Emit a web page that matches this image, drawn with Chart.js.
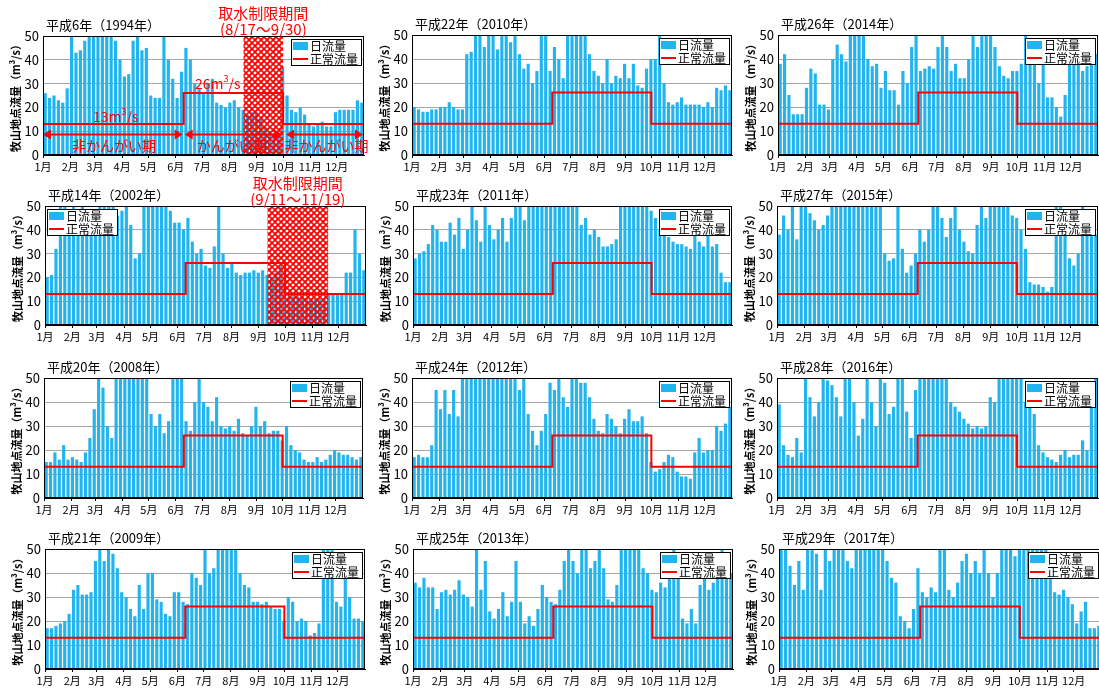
<!DOCTYPE html>
<html><head><meta charset="utf-8">
<script src="https://cdn.jsdelivr.net/npm/chart.js@4.4.0/dist/chart.umd.min.js"></script>
<style>
html,body{margin:0;padding:0;background:#fff;overflow:hidden;width:1099px;height:693px;position:relative;}
canvas{position:absolute;}
</style></head><body>
<script>
// ---------- data ----------
const monthLabels = ['1月','2月','3月','4月','5月','6月','7月','8月','9月','10月','11月','12月'];
const monthStartDays = [0,31,59,90,120,151,181,212,243,273,304,334];
const yTickStep = 10;
const yMax = 50;
const normalFlowDays = [0,160,160,273,273,365];
const normalFlowValues = [13,13,26,26,13,13];
const blockDays = 5; // each bar = 5-day block, 73 blocks per year
const legendLabels = ['日流量','正常流量'];
const yAxisTitle = '牧山地点流量（m³/s）';
const panelTitles = ['平成6年（1994年）','平成22年（2010年）','平成26年（2014年）',
  '平成14年（2002年）','平成23年（2011年）','平成27年（2015年）',
  '平成20年（2008年）','平成24年（2012年）','平成28年（2016年）',
  '平成21年（2009年）','平成25年（2013年）','平成29年（2017年）'];
const periodNames = ['非かんがい期','かんがい期','非かんがい期'];
const restrictTitle = '取水制限期間';
const restrict1994 = [228,273];
const restrict1994Label = '(8/17～9/30)';
const restrict2002 = [253,322];
const restrict2002Label = '(9/11～11/19)';

const flow1994 = [26,24,25,23,22,28, 50,43,44,48,60,60, 60,60,60,60,48,40, 33,34,48,55,44,45, 25,24,24,55,40,32, 24,35,45,40,30,28, 26,30,32,22,21,20, 22,23,20,19,17,18, 18,15,12,10,9,9, 37,25,19,18,20,17, 13,12,13,14,12,12, 18,19,19,19,19,23,22];
const flow2010 = [20,19,18,18,19,19, 20,20,22,20,19,19, 42,43,60,60,45,60, 60,44,60,60,47,60, 42,36,38,30,35,60, 60,35,45,40,32,60, 60,60,60,60,42,35, 33,30,40,30,33,32, 38,32,38,29,28,36, 40,40,55,30,22,21, 22,24,21,21,21,21, 20,22,20,28,27,29,27];
const flow2014 = [38,42,25,17,17,17, 28,36,34,21,21,19, 40,46,42,39,60,60, 60,60,40,37,38,28, 35,27,27,21,35,30, 45,60,35,36,37,36, 45,60,45,35,38,32, 32,40,60,45,60,60, 60,45,37,33,32,35, 35,38,55,45,45,30, 40,24,24,20,16,25, 38,42,38,35,37,45,42];
const flow2002 = [20,21,32,50,55,48, 50,45,55,45,40,42, 60,60,60,60,46,48, 60,42,28,30,60,60, 60,60,60,60,48,43, 43,40,45,35,30,32, 25,24,33,50,30,24, 26,22,21,22,22,23, 22,23,21,20,22,25, 18,12,12,12,12,11, 11,11,11,11,13,13, 13,13,22,22,40,30,23];
const flow2011 = [28,30,31,34,42,40, 35,35,43,38,45,32, 40,55,44,35,55,42, 36,40,45,35,45,60, 60,44,60,60,60,60, 60,60,60,60,60,60, 60,60,42,45,38,40, 37,33,33,34,36,55, 60,60,60,60,60,60, 48,45,40,38,37,35, 34,34,33,32,45,35, 33,38,33,34,22,18,18];
const flow2015 = [38,46,40,55,36,60, 60,47,44,40,42,46, 60,60,60,60,60,60, 60,60,60,60,60,55, 30,27,28,55,32,22, 25,30,40,35,40,60, 60,45,37,45,55,40, 35,31,30,42,60,45, 60,60,60,60,60,46, 45,40,32,18,17,17, 16,14,16,55,55,38, 28,25,30,55,48,42,38];
const flow2008 = [15,15,19,16,22,16, 17,16,15,19,25,37, 55,46,30,25,55,60, 60,60,60,60,60,60, 35,30,35,27,32,55, 55,50,32,28,40,50, 40,38,32,42,30,29, 30,28,33,27,26,30, 38,30,32,27,28,28, 24,30,22,20,19,16, 15,15,17,15,16,18, 20,19,18,18,17,16,17];
const flow2012 = [17,18,17,17,22,45, 37,45,35,45,34,55, 60,60,60,60,60,60, 60,60,60,60,60,60, 45,55,35,28,22,28, 35,48,45,55,42,38, 55,55,48,48,42,33, 28,27,35,33,30,27, 33,37,32,32,34,27, 15,11,12,15,18,17, 11,9,9,8,19,25, 19,20,20,30,28,31,38];
const flow2016 = [39,22,18,17,25,19, 55,42,34,40,55,49, 47,42,34,55,55,40, 26,33,55,40,30,55, 48,35,38,55,55,36, 25,45,60,60,60,60, 60,60,55,40,38,36, 33,31,29,30,29,30, 42,40,60,60,60,60, 60,55,40,39,35,22, 19,17,16,15,18,20, 17,18,18,24,20,45,60];
const flow2009 = [17,17,18,19,20,23, 33,35,31,31,32,45, 55,45,55,48,42,32, 30,25,22,35,25,40, 40,29,28,23,22,32, 32,28,27,40,38,35, 55,40,42,55,60,60, 55,50,40,35,34,28, 28,27,28,26,25,25, 20,30,28,20,21,20, 14,15,19,55,55,50, 28,26,45,30,21,21,20];
const flow2013 = [36,34,38,34,34,25, 32,33,31,33,37,31, 30,26,55,33,45,24, 21,25,32,22,28,45, 28,19,22,18,25,35, 30,28,27,33,45,60, 45,40,55,55,42,45, 55,42,29,28,35,60, 60,60,60,60,42,40, 33,32,36,34,40,55, 48,21,19,25,19,35, 38,33,36,45,55,48,40];
const flow2017 = [55,55,43,35,45,33, 55,55,48,33,55,45, 55,60,55,45,42,55, 60,60,60,60,60,60, 45,38,36,22,20,17, 25,42,32,30,34,32, 55,55,33,30,36,45, 48,40,45,40,55,40, 30,40,60,60,60,47, 60,60,60,60,60,60, 55,40,32,31,33,30, 27,19,24,28,17,17,18];

// ---------- layout ----------
const FONT = '"Noto Sans CJK JP", "Noto Sans", sans-serif';
const BAR = '#22b4ee';
const RED = '#ff0000';
const PAD_L = 46, PAD_T = 44, PAD_R = 8, PAD_B = 24;

const panels = [
  {data: flow1994, L:43,  R:364,  T:36,  B:155, legend:'right', ann:'p1994'},
  {data: flow2010, L:412, R:732,  T:35,  B:155, legend:'right'},
  {data: flow2014, L:778, R:1098, T:35,  B:155, legend:'right'},
  {data: flow2002, L:45,  R:366,  T:206, B:325, legend:'left', ann:'p2002'},
  {data: flow2011, L:413, R:732,  T:206, B:325, legend:'right'},
  {data: flow2015, L:777, R:1098, T:206, B:325, legend:'right'},
  {data: flow2008, L:44,  R:363,  T:378, B:498, legend:'right'},
  {data: flow2012, L:412, R:732,  T:378, B:498, legend:'right'},
  {data: flow2016, L:777, R:1098, T:378, B:498, legend:'right'},
  {data: flow2009, L:45,  R:365,  T:549, B:669, legend:'right'},
  {data: flow2013, L:413, R:733,  T:549, B:669, legend:'right'},
  {data: flow2017, L:779, R:1101, T:549, B:669, legend:'right'}
];

const tile = document.createElement('canvas');
tile.width = 6; tile.height = 6;
(function(){
  const g = tile.getContext('2d');
  g.strokeStyle = RED; g.lineWidth = 1.6;
  [[-1,-1,7,7],[-1,7,7,-1],[-4,2,2,-4],[4,10,10,4],[2,10,10,2],[-4,4,4,-4],[4,-4,10,2],[-4,10,2,4]].forEach(s => {
    g.beginPath(); g.moveTo(s[0], s[1]); g.lineTo(s[2], s[3]); g.stroke();
  });
})();

function arrow(ctx, x0, x1, yy) {
  const hl = 8, hw = 5;
  ctx.lineWidth = 2;
  ctx.beginPath(); ctx.moveTo(x0 + hl - 1, yy); ctx.lineTo(x1 - hl + 1, yy); ctx.stroke();
  ctx.beginPath(); ctx.moveTo(x0, yy); ctx.lineTo(x0 + hl, yy - hw); ctx.lineTo(x0 + hl, yy + hw); ctx.closePath(); ctx.fill();
  ctx.beginPath(); ctx.moveTo(x1, yy); ctx.lineTo(x1 - hl, yy - hw); ctx.lineTo(x1 - hl, yy + hw); ctx.closePath(); ctx.fill();
}
function supText(ctx, cx, cy, base, sup, tail, size) {
  const small = Math.round(size * 0.62);
  ctx.font = size + 'px ' + FONT;
  const w1 = ctx.measureText(base).width, w3 = ctx.measureText(tail).width;
  ctx.font = small + 'px ' + FONT;
  const w2 = ctx.measureText(sup).width;
  let sx = cx - (w1 + w2 + w3) / 2;
  ctx.textAlign = 'left'; ctx.textBaseline = 'middle';
  ctx.font = size + 'px ' + FONT; ctx.fillText(base, sx, cy); sx += w1;
  ctx.font = small + 'px ' + FONT; ctx.fillText(sup, sx, cy - size * 0.33); sx += w2;
  ctx.font = size + 'px ' + FONT; ctx.fillText(tail, sx, cy);
}

const panelPlugin = {
  id: 'panel',
  afterDatasetDraw(chart, args, opts) {
    if (args.index !== 1 || !opts.hatch) return;
    const {ctx, chartArea: a, scales: {x}} = chart;
    const x0 = x.getPixelForValue(opts.hatch[0]), x1 = x.getPixelForValue(opts.hatch[1]);
    ctx.save();
    ctx.fillStyle = ctx.createPattern(tile, 'repeat');
    ctx.fillRect(x0, a.top, x1 - x0, a.bottom - a.top);
    ctx.restore();
  },
  afterDraw(chart, args, opts) {
    const {ctx, chartArea: a, scales: {x, y}} = chart;
    ctx.save();
    // plot border
    ctx.strokeStyle = '#000'; ctx.lineWidth = 1;
    ctx.strokeRect(Math.round(a.left) + 0.5, Math.round(a.top) + 0.5, Math.round(a.right - a.left) - 1, Math.round(a.bottom - a.top) - 1);
    // title
    ctx.fillStyle = '#000'; ctx.font = '13px ' + FONT; ctx.textAlign = 'left'; ctx.textBaseline = 'middle';
    ctx.fillText(opts.title, a.left + 3, a.top - 11);
    // legend
    const w = 70, h = 26;
    const lx = opts.legend === 'right' ? Math.round(a.right) - 3 - w : Math.round(a.left) + 2;
    const ly = Math.round(a.top) + 3;
    ctx.fillStyle = '#fff'; ctx.fillRect(lx, ly, w, h);
    ctx.strokeStyle = '#000'; ctx.lineWidth = 1; ctx.strokeRect(lx + 0.5, ly + 0.5, w, h);
    ctx.fillStyle = BAR; ctx.fillRect(lx + 2, ly + 3, 15, 8);
    ctx.strokeStyle = RED; ctx.lineWidth = 2;
    ctx.beginPath(); ctx.moveTo(lx + 2, ly + 20); ctx.lineTo(lx + 17, ly + 20); ctx.stroke();
    ctx.fillStyle = '#000'; ctx.font = '12px ' + FONT; ctx.textBaseline = 'alphabetic';
    ctx.fillText(chart.data.datasets[1].label, lx + 19, ly + 12);
    ctx.fillText(chart.data.datasets[0].label, lx + 19, ly + 25);
    ctx.textBaseline = 'middle';
    // annotations
    ctx.fillStyle = RED; ctx.strokeStyle = RED;
    if (opts.hatch) {
      const cx = (x.getPixelForValue(opts.hatch[0]) + x.getPixelForValue(opts.hatch[1])) / 2;
      ctx.textAlign = 'center'; ctx.font = '15px ' + FONT;
      ctx.fillText(restrictTitle, cx, a.top - 23);
      ctx.fillText(opts.hatchLabel, cx, a.top - 7);
    }
    if (opts.ann === 'p1994') {
      const yy = Math.round(y.getPixelForValue(9)) + 0.5;
      arrow(ctx, x.getPixelForValue(0), x.getPixelForValue(160) - 1, yy);
      arrow(ctx, x.getPixelForValue(160) + 1, x.getPixelForValue(273) - 1, yy);
      arrow(ctx, x.getPixelForValue(273) + 3, x.getPixelForValue(365) - 1, yy);
      ctx.textAlign = 'center'; ctx.font = '14px ' + FONT;
      const py = y.getPixelForValue(4);
      ctx.fillText(periodNames[0], x.getPixelForValue(80.7), py);
      ctx.fillText(periodNames[1], x.getPixelForValue(214.5), py);
      ctx.fillText(periodNames[2], x.getPixelForValue(322.5), py);
      supText(ctx, x.getPixelForValue(82.7), y.getPixelForValue(16.2), String(normalFlowValues[0]) + 'm', '3', '/s', 14);
      supText(ctx, x.getPixelForValue(198.8), y.getPixelForValue(30), String(normalFlowValues[2]) + 'm', '3', '/s', 14);
    }
    ctx.restore();
  }
};

panels.forEach((p, i) => {
  const c = document.createElement('canvas');
  const W = p.R - p.L + PAD_L + PAD_R, H = p.B - p.T + PAD_T + PAD_B;
  c.width = W; c.height = H;
  c.style.left = (p.L - PAD_L) + 'px';
  c.style.top = (p.T - PAD_T) + 'px';
  c.style.width = W + 'px'; c.style.height = H + 'px';
  document.body.appendChild(c);
  const opts = {title: panelTitles[i], legend: p.legend, ann: p.ann};
  if (p.ann === 'p1994') { opts.hatch = restrict1994; opts.hatchLabel = restrict1994Label; }
  if (p.ann === 'p2002') { opts.hatch = restrict2002; opts.hatchLabel = restrict2002Label; }
  new Chart(c, {
    type: 'bar',
    data: {
      datasets: [
        {type: 'line', label: legendLabels[1],
         data: normalFlowDays.map((d, k) => ({x: d, y: normalFlowValues[k]})),
         borderColor: RED, borderWidth: 2, pointRadius: 0, fill: false, tension: 0},
        {type: 'bar', label: legendLabels[0],
         data: p.data.map((v, k) => ({x: k * blockDays + blockDays / 2, y: v})),
         backgroundColor: BAR, borderWidth: 0, barPercentage: 0.72, categoryPercentage: 1}
      ]
    },
    options: {
      responsive: false, animation: false, events: [],
      layout: {padding: {top: PAD_T, right: PAD_R, left: 0, bottom: 0}},
      plugins: {legend: {display: false}, tooltip: {enabled: false}, title: {display: false}, panel: opts},
      scales: {
        x: {
          type: 'linear', min: 0, max: 365, offset: false,
          afterBuildTicks: s => { s.ticks = monthStartDays.map(v => ({value: v})); },
          afterFit: s => { s.height = PAD_B; },
          grid: {drawOnChartArea: false, drawTicks: true, tickLength: 3, color: '#000', offset: false},
          border: {display: true, color: '#000'},
          ticks: {font: {size: 11, family: FONT}, color: '#000', padding: 2, autoSkip: false, maxRotation: 0,
                  callback: v => monthLabels[monthStartDays.indexOf(v)]}
        },
        y: {
          min: 0, max: yMax,
          afterFit: s => { s.width = PAD_L; },
          ticks: {stepSize: yTickStep, font: {size: 13, family: FONT}, color: '#000', padding: 4},
          grid: {drawTicks: false, color: c2 => (c2.tick && (c2.tick.value === 0 || c2.tick.value === yMax)) ? 'rgba(0,0,0,0)' : '#a6a6a6'},
          border: {display: true, color: '#000'},
          title: {display: true, text: yAxisTitle, font: {size: 11, weight: 'bold', family: FONT}, color: '#000', padding: {top: 12, bottom: 0}}
        }
      }
    },
    plugins: [panelPlugin]
  });
});
</script>
</body></html>
